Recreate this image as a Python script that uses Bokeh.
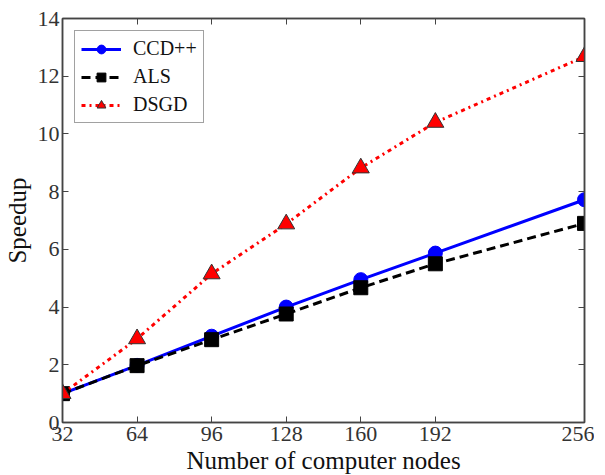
from bokeh.plotting import figure
from bokeh.models import LinearAxis, FixedTicker, Legend, LegendItem, Range1d
from bokeh.embed import file_html
from bokeh.resources import INLINE

nodes = [32, 64, 96, 128, 160, 192, 256]
ccd = [1.0, 1.98, 2.99, 4.0, 4.95, 5.87, 7.72]
als = [1.0, 1.97, 2.87, 3.76, 4.67, 5.5, 6.9]
dsgd = [1.0, 2.9, 5.15, 6.88, 8.82, 10.4, 12.68]
x_ticks = [32, 64, 96, 128, 160, 192, 256]
y_ticks = [0, 2, 4, 6, 8, 10, 12, 14]

FONT = "Liberation Serif"
AX = "#444444"
TXT = "#333333"

p = figure(frame_width=522, frame_height=404, output_backend="svg", toolbar_location=None,
           x_range=Range1d(32, 256), y_range=Range1d(0, 14),
           min_border_left=57, min_border_right=10, min_border_top=18, min_border_bottom=40)
p.xgrid.visible = False
p.ygrid.visible = False
p.outline_line_color = AX
p.outline_line_width = 1.5
p.background_fill_color = "white"
p.border_fill_color = "white"

def style(ax, labels=True):
    ax.axis_line_color = AX
    ax.axis_line_width = 1.5
    ax.major_tick_line_color = AX
    ax.major_tick_line_width = 1
    ax.major_tick_in = 6
    ax.major_tick_out = 0
    ax.minor_tick_line_color = None
    ax.major_label_text_font = FONT
    ax.major_label_text_font_size = "22px"
    ax.major_label_text_color = TXT
    ax.axis_label_text_font = FONT
    ax.axis_label_text_font_size = "25px"
    ax.axis_label_text_font_style = "normal"
    ax.axis_label_text_color = "#111111"
    if not labels:
        ax.major_label_text_font_size = "0px"
        ax.major_label_text_color = None

p.xaxis.ticker = FixedTicker(ticks=x_ticks)
p.yaxis.ticker = FixedTicker(ticks=y_ticks)
p.xaxis.axis_label = "Number of computer nodes"
p.yaxis.axis_label = "Speedup"
style(p.xaxis[0])
style(p.yaxis[0])
p.xaxis.major_label_standoff = 4
p.xaxis.axis_label_standoff = 3
p.yaxis.major_label_standoff = 3
p.yaxis.axis_label_standoff = 4

top = LinearAxis(ticker=FixedTicker(ticks=x_ticks))
right = LinearAxis(ticker=FixedTicker(ticks=y_ticks))
style(top, labels=False)
style(right, labels=False)
top.major_label_standoff = 0
right.major_label_standoff = 0
p.add_layout(top, "above")
p.add_layout(right, "right")

l1 = p.line(nodes, ccd, line_color="blue", line_width=3)
m1 = p.scatter(nodes, ccd, marker="circle", size=14, fill_color="blue", line_color="blue")
l2 = p.line(nodes, als, line_color="black", line_width=3, line_dash="9 5")
m2 = p.scatter(nodes, als, marker="square", size=14, fill_color="black", line_color="black")
l3 = p.line(nodes, dsgd, line_color="red", line_width=3, line_dash="4 4 2 4")
m3 = p.scatter(nodes, dsgd, marker="triangle", size=17, fill_color="red", line_color="#333333", line_width=1)

legend = Legend(items=[LegendItem(label="CCD++", renderers=[l1, m1]),
                       LegendItem(label="ALS", renderers=[l2, m2]),
                       LegendItem(label="DSGD", renderers=[l3, m3])],
                location="top_left")
legend.label_text_font = FONT
legend.label_text_font_size = "20px"
legend.label_text_color = "#111111"
legend.border_line_color = AX
legend.border_line_width = 1.5
legend.glyph_width = 40
legend.glyph_height = 22
legend.label_height = 22
legend.spacing = 5
legend.padding = 6
legend.margin = 12
legend.label_standoff = 12
p.add_layout(legend)

open("out.html", "w").write(file_html(p, INLINE))
